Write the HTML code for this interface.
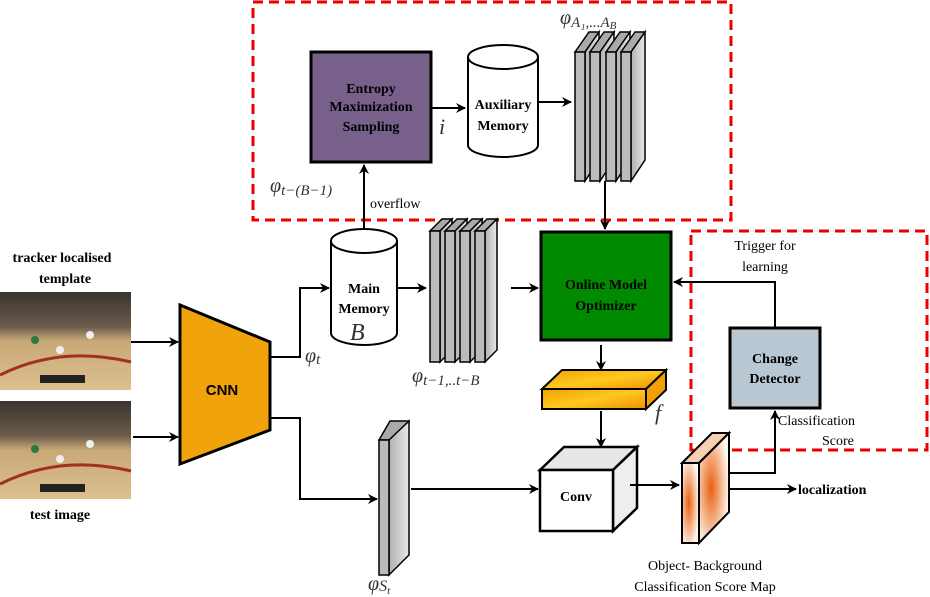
<!DOCTYPE html>
<html><head><meta charset="utf-8"><style>
html,body{margin:0;padding:0;background:#fff}
svg{display:block}
text{font-family:"Liberation Serif",serif}
.b{font-weight:bold;font-size:14px}
.n{font-size:14px}
.m{font-style:italic;font-size:20px;fill:#333}
</style></head><body>
<svg width="930" height="597" viewBox="0 0 930 597" xmlns="http://www.w3.org/2000/svg">
<defs>
<marker id="a" markerWidth="10" markerHeight="10" refX="9" refY="5" orient="auto" markerUnits="userSpaceOnUse"><path d="M0,0 L10,5 L0,10 L3,5z" fill="#000"/></marker>
<linearGradient id="g" x1="0" x2="1"><stop offset="0" stop-color="#b0b0b0"/><stop offset="1" stop-color="#e8e8e8"/></linearGradient>
<linearGradient id="o" x1="0" y1="0" x2="1" y2="1"><stop offset="0" stop-color="#f0a000"/><stop offset="0.5" stop-color="#ffc820"/><stop offset="1" stop-color="#f09000"/></linearGradient>
<radialGradient id="r" cx="0.4" cy="0.5" r="0.6"><stop offset="0" stop-color="#e86010"/><stop offset="1" stop-color="#fff8f0"/></radialGradient>
<linearGradient id="court" x1="0" y1="0" x2="0" y2="1"><stop offset="0" stop-color="#3a3530"/><stop offset="0.35" stop-color="#6a5a4a"/><stop offset="0.5" stop-color="#c9a878"/><stop offset="1" stop-color="#dcc08e"/></linearGradient>
</defs>
<rect x="253" y="2" width="478" height="218" fill="none" stroke="#e00" stroke-width="3" stroke-dasharray="10,6"/>
<rect x="691" y="231" width="236" height="219" fill="none" stroke="#e00" stroke-width="3" stroke-dasharray="10,6"/>

<g>
<rect x="0" y="292" width="131" height="98" fill="url(#court)"/>
<path d="M0,375 Q60,345 131,362" stroke="#a03020" stroke-width="3" fill="none"/>
<circle cx="35" cy="340" r="4" fill="#2a7a3a"/><circle cx="60" cy="350" r="4" fill="#eee"/><circle cx="90" cy="335" r="4" fill="#eee"/>
<rect x="40" y="375" width="45" height="8" fill="#222"/>
<rect x="0" y="401" width="131" height="98" fill="url(#court)"/>
<path d="M0,484 Q60,454 131,471" stroke="#a03020" stroke-width="3" fill="none"/>
<circle cx="35" cy="449" r="4" fill="#2a7a3a"/><circle cx="60" cy="459" r="4" fill="#eee"/><circle cx="90" cy="444" r="4" fill="#eee"/>
<rect x="40" y="484" width="45" height="8" fill="#222"/>
</g>
<text class="b" x="62" y="262" text-anchor="middle">tracker localised</text>
<text class="b" x="65" y="283" text-anchor="middle">template</text>
<text class="b" x="60" y="519" text-anchor="middle">test image</text>
<line x1="131" y1="342" x2="178" y2="342" stroke="#000" stroke-width="2" marker-end="url(#a)"/>
<line x1="133" y1="437" x2="178" y2="437" stroke="#000" stroke-width="2" marker-end="url(#a)"/>

<polygon points="180,305 270,342 270,430 180,464" fill="#f0a30a" stroke="#000" stroke-width="3"/>
<text x="222" y="395" text-anchor="middle" style="font-family:'Liberation Sans',sans-serif;font-weight:bold;font-size:15px">CNN</text>

<polyline points="271,357 300,357 300,288 329,288" fill="none" stroke="#000" stroke-width="2" marker-end="url(#a)"/>
<text class="m" x="305" y="362">φ<tspan font-size="15" dy="2">t</tspan></text>
<polyline points="271,418 300,418 300,499 377,499" fill="none" stroke="#000" stroke-width="2" marker-end="url(#a)"/>

<path d="M331,241 L331,333 A33,12 0 0 0 397,333 L397,241" fill="#fff" stroke="#000" stroke-width="2"/>
<ellipse cx="364" cy="241" rx="33" ry="12" fill="#fff" stroke="#000" stroke-width="2"/>
<text class="b" x="364" y="293" text-anchor="middle">Main</text>
<text class="b" x="364" y="313" text-anchor="middle">Memory</text>
<text x="350" y="340" style="font-family:'Liberation Serif',serif;font-style:italic;font-size:24px" fill="#333">B</text>
<line x1="364" y1="229" x2="364" y2="165" stroke="#000" stroke-width="2" marker-end="url(#a)"/>
<text class="n" x="370" y="208">overflow</text>
<text class="m" x="270" y="192">φ<tspan font-size="15" dy="3">t−(B−1)</tspan></text>

<line x1="397" y1="288" x2="426" y2="288" stroke="#000" stroke-width="2" marker-end="url(#a)"/>

<g stroke="#000" stroke-width="1.5">
<g id="p2">
<polygon points="430,231 442,219 452,219 440,231" fill="#aaa"/>
<polygon points="440,231 452,219 452,350 440,362" fill="url(#g)"/>
<rect x="430" y="231" width="10" height="131" fill="#bbb"/>
</g>
<use href="#p2" x="15"/>
<use href="#p2" x="30"/>
<use href="#p2" x="45"/>
</g>
<text class="m" x="412" y="382">φ<tspan font-size="15" dy="3">t−1,..t−B</tspan></text>
<line x1="511" y1="288" x2="538" y2="288" stroke="#000" stroke-width="2" marker-end="url(#a)"/>

<rect x="311" y="52" width="120" height="110" fill="#77618a" stroke="#000" stroke-width="3"/>
<text class="b" x="371" y="93" text-anchor="middle">Entropy</text>
<text class="b" x="371" y="111" text-anchor="middle">Maximization</text>
<text class="b" x="371" y="131" text-anchor="middle">Sampling</text>
<line x1="432" y1="108" x2="465" y2="108" stroke="#000" stroke-width="2" marker-end="url(#a)"/>
<text x="439" y="134" style="font-family:'Liberation Serif',serif;font-style:italic;font-size:22px" fill="#333">i</text>

<path d="M468,57 L468,145 A35,12 0 0 0 538,145 L538,57" fill="#fff" stroke="#000" stroke-width="2"/>
<ellipse cx="503" cy="57" rx="35" ry="12" fill="#fff" stroke="#000" stroke-width="2"/>
<text class="b" x="503" y="109" text-anchor="middle">Auxiliary</text>
<text class="b" x="503" y="130" text-anchor="middle">Memory</text>
<line x1="538" y1="102" x2="571" y2="102" stroke="#000" stroke-width="2" marker-end="url(#a)"/>

<g stroke="#000" stroke-width="1.5">
<g id="p1">
<polygon points="575,52 589,32 599,32 585,52" fill="#aaa"/>
<polygon points="585,52 599,32 599,160 585,181" fill="url(#g)"/>
<rect x="575" y="52" width="10" height="129" fill="#bbb"/>
</g>
<use href="#p1" x="15"/>
<use href="#p1" x="31"/>
<use href="#p1" x="46"/>
</g>
<text class="m" x="560" y="24">φ<tspan font-size="15" dy="3">A₁,...A</tspan><tspan font-size="11" dy="2">B</tspan></text>
<line x1="605" y1="181" x2="605" y2="229" stroke="#000" stroke-width="2" marker-end="url(#a)"/>

<rect x="541" y="232" width="130" height="108" fill="#008a00" stroke="#000" stroke-width="3"/>
<text class="b" x="606" y="289" text-anchor="middle">Online Model</text>
<text class="b" x="606" y="310" text-anchor="middle">Optimizer</text>

<rect x="730" y="328" width="90" height="80" fill="#b9c7d3" stroke="#000" stroke-width="3"/>
<text class="b" x="775" y="363" text-anchor="middle">Change</text>
<text class="b" x="775" y="383" text-anchor="middle">Detector</text>
<polyline points="775,327 775,282 674,282" fill="none" stroke="#000" stroke-width="2" marker-end="url(#a)"/>
<text class="n" x="765" y="250" text-anchor="middle">Trigger for</text>
<text class="n" x="765" y="271" text-anchor="middle">learning</text>
<text class="n" x="778" y="425">Classification</text>
<text class="n" x="822" y="445">Score</text>

<line x1="601" y1="345" x2="601" y2="370" stroke="#000" stroke-width="2" marker-end="url(#a)"/>
<polygon points="542,389 562,370 666,370 646,389" fill="url(#o)" stroke="#000" stroke-width="2"/>
<polygon points="646,389 666,370 666,390 646,409" fill="#f0a000" stroke="#000" stroke-width="2"/>
<rect x="542" y="389" width="104" height="20" fill="url(#o)" stroke="#000" stroke-width="2"/>
<text x="655" y="420" style="font-family:'Liberation Serif',serif;font-style:italic;font-size:22px" fill="#333">f</text>
<line x1="601" y1="411" x2="601" y2="447" stroke="#000" stroke-width="2" marker-end="url(#a)"/>

<polygon points="540,470 564,447 637,447 613,470" fill="#e6e6e6" stroke="#000" stroke-width="2.5"/>
<polygon points="613,470 637,447 637,508 613,531" fill="#eee" stroke="#000" stroke-width="2.5"/>
<rect x="540" y="470" width="73" height="61" fill="#fff" stroke="#000" stroke-width="2.5"/>
<text class="b" x="576" y="501" text-anchor="middle">Conv</text>
<line x1="411" y1="489" x2="538" y2="489" stroke="#000" stroke-width="2" marker-end="url(#a)"/>
<line x1="630" y1="485" x2="679" y2="485" stroke="#000" stroke-width="2" marker-end="url(#a)"/>

<polygon points="379,440 390,421 409,421 399,440" fill="#aaa" stroke="#000" stroke-width="1.5"/>
<polygon points="389,440 409,421 409,555 389,575" fill="url(#g)" stroke="#000" stroke-width="1.5"/>
<rect x="379" y="440" width="10" height="135" fill="#bbb" stroke="#000" stroke-width="1.5"/>
<text class="m" x="368" y="590">φ<tspan font-size="16" dy="1">S</tspan><tspan font-size="11" dy="3">t</tspan></text>

<polygon points="682,463 699,463 729,433 712,433" fill="#f6d0b0" stroke="#000" stroke-width="2"/>
<polygon points="699,463 729,433 729,512 699,543" fill="url(#r)" stroke="#000" stroke-width="2"/>
<rect x="682" y="463" width="17" height="80" fill="url(#r)" stroke="#000" stroke-width="2"/>
<polyline points="730,473 775,473 775,411" fill="none" stroke="#000" stroke-width="2" marker-end="url(#a)"/>
<line x1="730" y1="489" x2="796" y2="489" stroke="#000" stroke-width="2" marker-end="url(#a)"/>
<text class="b" x="798" y="494">localization</text>
<text class="n" x="705" y="570" text-anchor="middle">Object- Background</text>
<text class="n" x="705" y="591" text-anchor="middle">Classification Score Map</text>
</svg>
</body></html>
